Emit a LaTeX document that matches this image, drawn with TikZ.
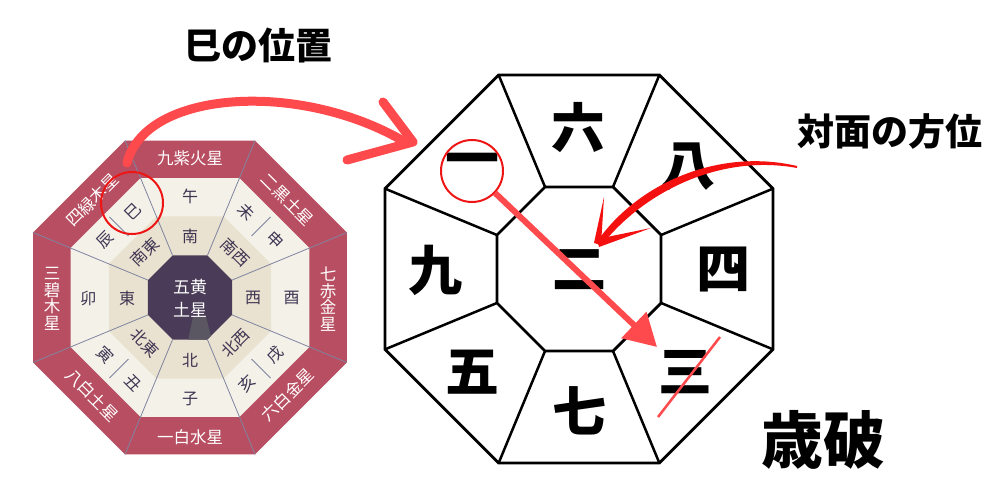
\documentclass[tikz,border=0pt]{standalone}
\usepackage{fontspec}
\setmainfont{Noto Sans CJK JP}
\usetikzlibrary{arrows.meta}
\definecolor{bandc}{HTML}{B84E61}
\definecolor{creamc}{HTML}{F4F1E9}
\definecolor{tanc}{HTML}{E9E2D0}
\definecolor{darkc}{HTML}{4A3B58}
\definecolor{shadc}{HTML}{5A5662}
\definecolor{txtc}{HTML}{3E3452}
\definecolor{divc}{HTML}{8084A0}
\definecolor{coral}{HTML}{FF4A4D}
\definecolor{redc}{HTML}{EE1515}
\definecolor{arrred}{HTML}{F51010}
\newcommand\octo[1]{(22.5:#1) -- (67.5:#1) -- (112.5:#1) -- (157.5:#1) -- (202.5:#1) -- (247.5:#1) -- (292.5:#1) -- (337.5:#1) -- cycle}
\begin{document}
\begin{tikzpicture}[x=1pt,y=-1pt,
  lbl/.style={font=\fontsize{16}{16.5}\selectfont, text=txtc, inner sep=0pt},
  wl/.style={font=\fontsize{16.5}{16.5}\selectfont, inner sep=0pt, text=white, align=center},
  div/.style={draw=divc, line width=0.8pt},
  bk/.style={draw=black, line width=2.8pt},
  big/.style={font=\fontsize{54}{54}\selectfont\bfseries, inner sep=0pt},
  head/.style={font=\fontsize{37}{37}\selectfont\bfseries, inner sep=0pt},
  ring/.style={draw=redc, line width=2pt, circle, inner sep=0pt, minimum size=62pt}]
\useasboundingbox (0,0) rectangle (1000,500);
\fill[white] (0,0) rectangle (1000,500);
% ---------- left octagon ----------
\begin{scope}[shift={(190,297.5)}]
  \fill[bandc] \octo{169.9};
  \fill[creamc] \octo{129.3};
  \fill[tanc] \octo{87.7};
  \fill[darkc] \octo{45.5};
  \begin{scope}
    \clip \octo{45.5};
    \fill[shadc] (3,19) -- (16,19) -- (22,43) -- (-2,43) -- cycle;
  \end{scope}
  \foreach \a in {22.5,67.5,...,337.5} \draw[div] (\a:45.5) -- (\a:169.9);
  \foreach \a in {45,135,225,315} \draw[div] (\a:87) -- (\a:114);
\end{scope}
% band labels
\node[wl] (b9) at (190,158) {九紫火星};
\node[wl, rotate=-45] (b2) at (287.6,199.9) {二黒土星};
\node[wl] (b7) at (328,299) {七\\赤\\金\\星};
\node[wl, rotate=45] (b6) at (287.6,395.1) {六白金星};
\node[wl] (b1) at (190,437) {一白水星};
\node[wl, rotate=-45] (b8) at (92.4,395.1) {八白土星};
\node[wl] (b3) at (52,299) {三\\碧\\木\\星};
\node[wl, rotate=45] (b4) at (92.4,199.9) {四緑木星};
% branches
\node[lbl] (z7) at (190,196) {午};
\node[lbl, rotate=-45] (z8) at (246.7,211.7) {未};
\node[lbl, rotate=-45] (z9) at (275,240) {申};
\node[lbl] (z10) at (291.7,298) {酉};
\node[lbl, rotate=45] (z11) at (275,355) {戌};
\node[lbl, rotate=45] (z12) at (246.7,383.3) {亥};
\node[lbl] (z1) at (190,399) {子};
\node[lbl, rotate=-45] (z2) at (133.3,383.3) {丑};
\node[lbl, rotate=-45] (z3) at (105,355) {寅};
\node[lbl] (z4) at (88.3,298) {卯};
\node[lbl, rotate=45] (z5) at (105,240) {辰};
\node[lbl, rotate=45] (z6) at (133.3,211.7) {巳};
% directions
\node[lbl] (dS) at (190,236) {南};
\node[lbl, rotate=-45] (dSW) at (235.3,252.2) {南西};
\node[lbl] (dW) at (253,298) {西};
\node[lbl, rotate=45] (dNW) at (235.3,342.8) {北西};
\node[lbl] (dN) at (190,360) {北};
\node[lbl, rotate=-45] (dNE) at (144.7,342.8) {北東};
\node[lbl] (dE) at (127,298) {東};
\node[lbl, rotate=45] (dSE) at (144.7,252.2) {南東};
\node[lbl, text=white, font=\fontsize{17}{17}\selectfont] (c5a) at (190,287) {五黄};
\node[lbl, text=white, font=\fontsize{17}{17}\selectfont] (c5b) at (190,310) {土星};
% ---------- right octagon ----------
\begin{scope}[shift={(579,269)}]
  \draw[bk] \octo{210};
  \draw[bk] \octo{88.8};
  \foreach \a in {22.5,67.5,...,337.5} \draw[bk, line width=2.5pt] (\a:88.8) -- (\a:210);
\end{scope}
\node[big] (r6) at (578,128) {六};
\node[big] (r8) at (688,167) {八};
\node[big] (r4) at (723,270) {四};
\node[big] (r3) at (685,372) {三};
\node[big] (r7) at (579,411) {七};
\node[big] (r5) at (472,372) {五};
\node[big] (r9) at (435,270) {九};
\node[big] (r1) at (472,166) {一};
\node[big] (r2) at (579,270) {二};
% ---------- headings ----------
\node[head] (h1) at (258,45) {巳の位置};
\node[head] (h2) at (890,131) {対面の方位};
\node[font=\fontsize{62}{62}\selectfont\bfseries, inner sep=0pt] (h3) at (823,440) {歳破};
% ---------- red marks ----------
\node[ring] (cl) at (132,203) {};
\node[ring] (cr) at (472,171) {};
% arrow 1
\coordinate (a1s) at (127,163);
\coordinate (a1e) at (405,142);
\coordinate (a1t) at (413,142);
\coordinate (a1u) at (383,102);
\coordinate (a1l) at (347,160);
\draw[coral, line width=9pt, line cap=round] (a1s) .. controls (145,90) and (300,80) .. (a1e);
\draw[coral, line width=9pt, line cap=round, line join=round] (a1u) -- (a1t) -- (a1l);
% arrow 2 (tapered brush)
\coordinate (a2s) at (797,166);
\coordinate (a2t) at (597,245);
\fill[arrred] (a2s) .. controls (720,148) and (638,182) .. (596,243) -- (601,246) .. controls (645,190) and (722,154) .. (797,168) -- cycle;
\fill[arrred] (604,197) -- (601,245) -- (594,243) -- cycle;
\fill[arrred] (651,228) -- (597,239) -- (599,247) -- cycle;
% arrow 3
\coordinate (a3t) at (657,347);
\draw[coral, line width=6pt, -{Triangle[length=32pt,width=35pt]}] (cr) -- (a3t);
% slash over 三
\coordinate (s1) at (720,337);
\coordinate (s2) at (658,417);
\draw[coral, line width=2.5pt] (s1) -- (s2);
\end{tikzpicture}
\end{document}
